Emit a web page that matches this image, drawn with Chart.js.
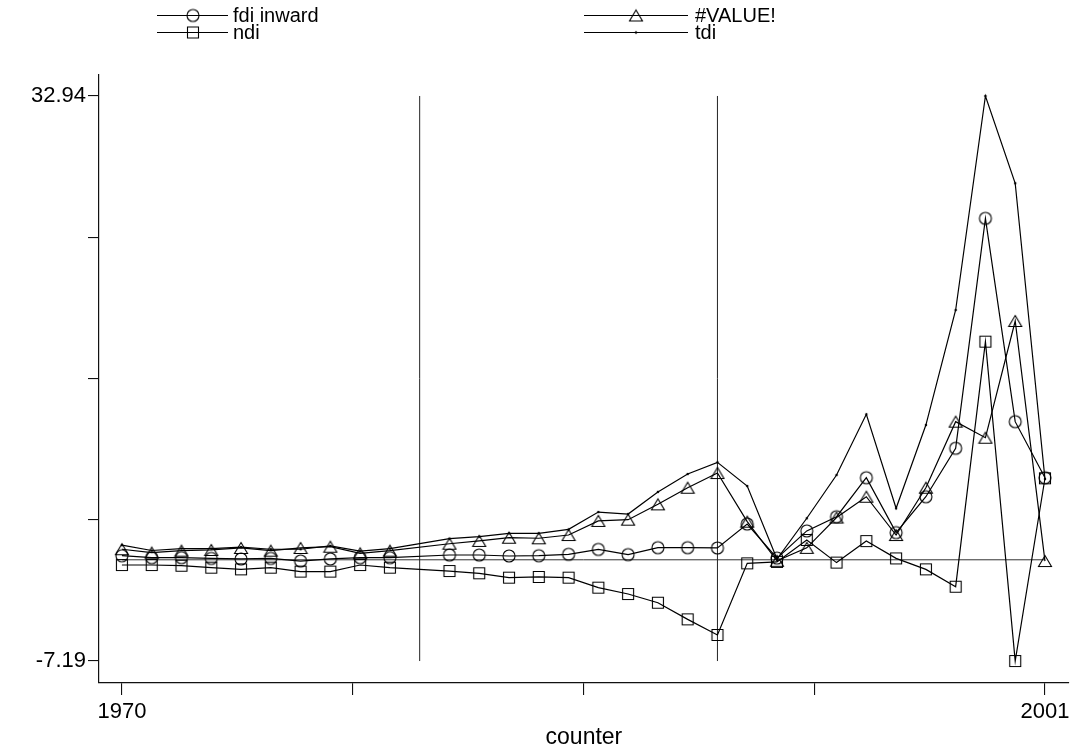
<!DOCTYPE html>
<html>
<head>
<meta charset="utf-8">
<script src="https://cdn.jsdelivr.net/npm/chart.js@4.4.1/dist/chart.umd.min.js"></script>
<style>
  html, body { margin: 0; padding: 0; background: #fff; }
  #wrap { width: 1076px; height: 753px; }
</style>
</head>
<body>
<div id="wrap"><canvas id="c" width="1076" height="753"></canvas></div>
<script>
// ---- data ----
const years = [1970, 1971, 1972, 1973, 1974, 1975, 1976, 1977, 1978, 1979,
               1981, 1982, 1983, 1984, 1985, 1986, 1987, 1988, 1989, 1990,
               1991, 1992, 1993, 1994, 1995, 1996, 1997, 1998, 1999, 2000, 2001];

const fdiInward = [0.29, 0.15, 0.15, 0.10, 0.06, 0.10, -0.09, 0.06, 0.15, 0.15,
                   0.34, 0.34, 0.27, 0.29, 0.39, 0.74, 0.37, 0.86, 0.86, 0.84,
                   2.54, 0.12, 2.05, 3.06, 5.83, 1.93, 4.48, 7.92, 24.25, 9.81, 5.83];

const valueErr = [0.75, 0.51, 0.65, 0.70, 0.84, 0.65, 0.84, 0.93, 0.46, 0.65,
                  1.14, 1.34, 1.57, 1.53, 1.76, 2.76, 2.85, 3.94, 5.12, 6.16,
                  2.71, -0.07, 0.85, 3.00, 4.48, 1.76, 5.12, 9.81, 8.67, 16.96, -0.09];

const ndi = [-0.37, -0.37, -0.42, -0.56, -0.68, -0.56, -0.84, -0.84, -0.37, -0.56,
             -0.80, -0.96, -1.27, -1.22, -1.27, -1.98, -2.43, -3.05, -4.23, -5.34,
             -0.25, -0.15, 1.41, -0.20, 1.33, 0.10, -0.68, -1.91, 15.49, -7.19, 5.79];

const tdi = [1.04, 0.66, 0.80, 0.80, 0.90, 0.75, 0.75, 0.99, 0.61, 0.80,
             1.50, 1.64, 1.88, 1.88, 2.16, 3.39, 3.25, 4.82, 6.09, 6.92,
             5.24, 0.05, 2.95, 6.02, 10.33, 3.66, 9.57, 17.74, 32.94, 26.74, 5.74];

const seriesNames = ["fdi inward", "#VALUE!", "ndi", "tdi"];
const xTicks = [1970, 1977.75, 1985.5, 1993.25, 2001];
const xTickLabels = ["1970", "", "", "", "2001"];
const yTicks = [-7.19, 2.8425, 12.875, 22.9075, 32.94];
const yTickLabels = ["-7.19", "", "", "", "32.94"];
const xLines = [1980, 1990];
const yLine = 0;

// ---- rendering ----
const FONT = "'Liberation Sans', Arial, Helvetica, sans-serif";
const INK = '#000';
const LW = 1.2;

function marker(kind) {
  const c = document.createElement('canvas');
  c.width = 16; c.height = 16;
  const g = c.getContext('2d');
  g.strokeStyle = INK; g.lineWidth = 1.1;
  g.beginPath();
  if (kind === 'circle') {
    g.arc(8, 8, 6, 0, Math.PI * 2);
  } else if (kind === 'square') {
    g.rect(2.5, 2.5, 11, 11);
  } else if (kind === 'triangle') {
    g.moveTo(8, 2.5); g.lineTo(14.5, 13.5); g.lineTo(1.5, 13.5); g.closePath();
  } else {
    g.arc(8, 8, 0.7, 0, Math.PI * 2);
    g.fillStyle = INK; g.fill();
  }
  g.stroke();
  return c;
}
const mCircle = marker('circle'), mSquare = marker('square'),
      mTri = marker('triangle'), mDot = marker('dot');

function pts(arr) { return years.map((y, i) => ({ x: y, y: arr[i] })); }

const yMin = -8.75, yMax = 34.43;
const xMin = 1969.23, xMax = 2001.80;

const refSets = [];
xLines.forEach(v => refSets.push({
  data: [{ x: v, y: yTicks[0] }, { x: v, y: yTicks[yTicks.length - 1] }],
  borderColor: '#222', borderWidth: 1, pointRadius: 0, fill: false, order: 10
}));
refSets.push({
  data: [{ x: years[0], y: yLine }, { x: years[years.length - 1], y: yLine }],
  borderColor: '#333', borderWidth: 1, pointRadius: 0, fill: false, order: 10
});

function series(label, arr, img) {
  return {
    label, data: pts(arr), borderColor: INK, borderWidth: LW,
    pointStyle: img, pointRadius: 6, pointHoverRadius: 6,
    fill: false, tension: 0, spanGaps: true, order: 1
  };
}

const legendItems = [
  { name: seriesNames[0], img: mCircle, x0: 157, x1: 228, tx: 233, y: 15 },
  { name: seriesNames[1], img: mTri, x0: 584, x1: 688, tx: 695, y: 15 },
  { name: seriesNames[2], img: mSquare, x0: 157, x1: 228, tx: 233, y: 32 },
  { name: seriesNames[3], img: mDot, x0: 584, x1: 688, tx: 695, y: 32 }
];

const legendPlugin = {
  id: 'stataLegend',
  afterDraw(chart) {
    const ctx = chart.ctx;
    ctx.save();
    ctx.strokeStyle = INK; ctx.lineWidth = 1.1; ctx.fillStyle = INK;
    ctx.font = '20px ' + FONT;
    ctx.textBaseline = 'middle';
    legendItems.forEach(it => {
      ctx.beginPath();
      ctx.moveTo(it.x0, it.y + 0.5); ctx.lineTo(it.x1, it.y + 0.5);
      ctx.stroke();
      const mx = Math.round((it.x0 + it.x1) / 2);
      ctx.drawImage(it.img, mx - 8, it.y - 7.5);
      ctx.fillText(it.name, it.tx, it.y + 1);
    });
    ctx.restore();
  }
};

new Chart(document.getElementById('c'), {
  type: 'line',
  data: {
    datasets: [
      series(seriesNames[0], fdiInward, mCircle),
      series(seriesNames[1], valueErr, mTri),
      series(seriesNames[2], ndi, mSquare),
      series(seriesNames[3], tdi, mDot),
      ...refSets
    ]
  },
  options: {
    responsive: false,
    devicePixelRatio: 1,
    animation: false,
    events: [],
    layout: { padding: { top: 75, right: 4, left: 0, bottom: 0 } },
    plugins: { legend: { display: false }, tooltip: { enabled: false } },
    scales: {
      x: {
        type: 'linear', min: xMin, max: xMax,
        border: { display: true, color: '#111', width: 1.2 },
        grid: { display: true, drawOnChartArea: false, drawTicks: true, tickLength: 12, color: '#111', lineWidth: 1.1 },
        ticks: {
          autoSkip: false, maxRotation: 0, minRotation: 0, padding: 4,
          color: INK, font: { family: FONT, size: 22 },
          callback: (v, i) => xTickLabels[i]
        },
        afterBuildTicks: s => { s.ticks = xTicks.map(v => ({ value: v })); },
        afterFit: s => { s.height = 70; s.paddingLeft = 0; s.paddingRight = 0; },
        title: { display: true, text: 'counter', color: INK, font: { family: FONT, size: 23 }, padding: { top: 0, bottom: 2 } }
      },
      y: {
        type: 'linear', min: yMin, max: yMax,
        border: { display: true, color: '#111', width: 1.2 },
        grid: { display: true, drawOnChartArea: false, drawTicks: true, tickLength: 11, color: '#111', lineWidth: 1.1 },
        ticks: {
          autoSkip: false, padding: 2,
          color: INK, font: { family: FONT, size: 22 },
          callback: (v, i) => yTickLabels[i]
        },
        afterBuildTicks: s => { s.ticks = yTicks.map(v => ({ value: v })); },
        afterFit: s => { s.width = 99; s.paddingTop = 0; s.paddingBottom = 0; }
      }
    }
  },
  plugins: [legendPlugin]
});
</script>
</body>
</html>
